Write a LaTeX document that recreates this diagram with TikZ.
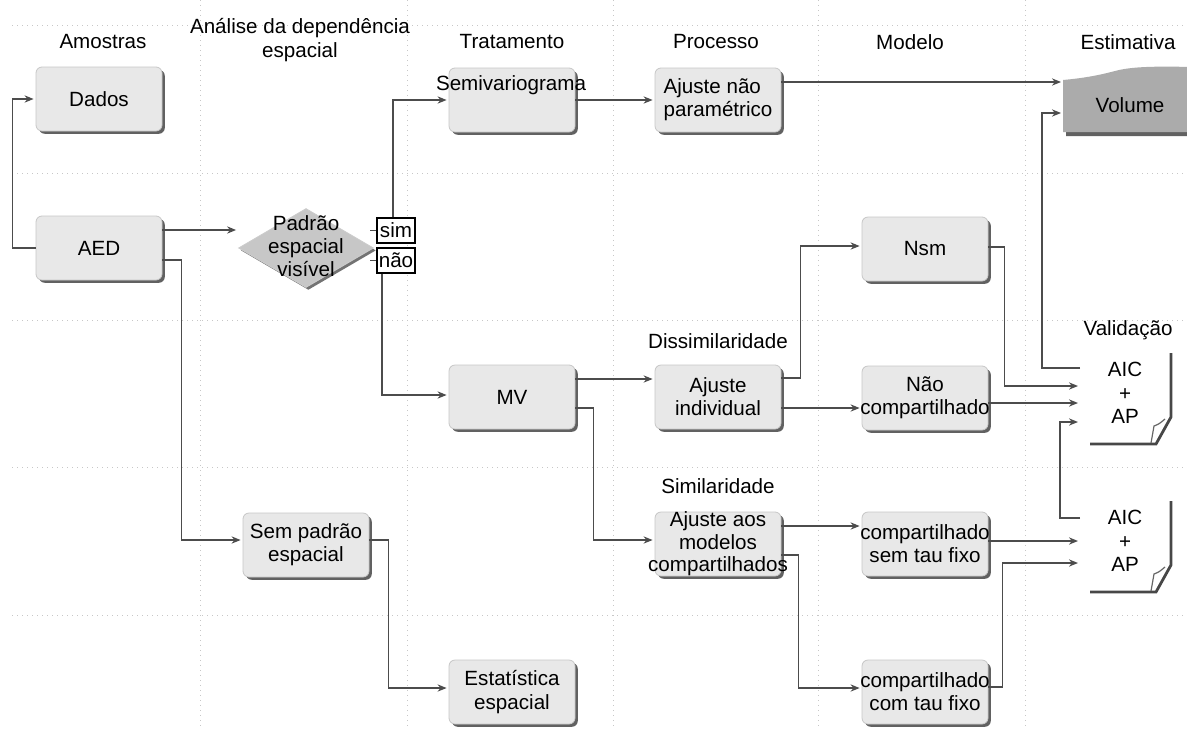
\documentclass[tikz,border=0pt]{standalone}
\usepackage{fontspec}
\setmainfont{Liberation Sans}
\usetikzlibrary{arrows.meta,shapes.geometric,shadows,calc}
\begin{document}
\begin{tikzpicture}[x=0.5pt,y=-0.5pt,
  font=\fontsize{10.3}{11.6}\selectfont,
  box/.style={rectangle, rounded corners=3pt, draw=black!22, fill=black!9,
    minimum width=63pt, minimum height=32pt, inner sep=0pt, align=center,
    drop shadow={shadow xshift=1.4pt, shadow yshift=-1.4pt, fill=black!62, opacity=1}},
  arr/.style={draw=black!70, line width=0.8pt, shorten >=1pt, -{Stealth[length=4.5pt,width=3.6pt]}},
  ln/.style={draw=black!70, line width=0.8pt},
  gridln/.style={black!22, line width=0.5pt, dotted},
  hdr/.style={align=center, inner sep=0pt},
  yn/.style={draw=black, fill=white, line width=0.6pt, minimum width=19pt, minimum height=12.5pt, inner sep=0pt},
  doc/.style={draw=black!72, line width=1.4pt},
]
\useasboundingbox (0,0) rectangle (1187,728);
% grid
\foreach \yy in {25,173,320,467,615} \draw[gridln] (12,\yy) -- (1187,\yy);
\foreach \xx in {200,407,613,818,1025} \draw[gridln] (\xx,0) -- (\xx,728);

% headers
\node[hdr] (hA) at (103,42) {Amostras};
\node[hdr] (hB) at (300,40) {Análise da dependência\\espacial};
\node[hdr] (hC) at (512,42) {Tratamento};
\node[hdr] (hD) at (716,42) {Processo};
\node[hdr] (hE) at (910,42) {Modelo};
\node[hdr] (hF) at (1128,42) {Estimativa};

% boxes
\node[box] (dados) at (99,99) {Dados};
\node[box] (aed) at (99,248) {AED};
\node[box] (semi) at (512,100) {};
\node[inner sep=0pt] (semit) at (511,85) {Semivariograma};
\node[box, align=left] (ajnp) at (718,100) {Ajuste não\\paramétrico};
\node[box] (mv) at (512,397) {MV};
\node[box] (ajind) at (718,397) {Ajuste\\individual};
\node[box, font=\fontsize{10.3}{11.2}\selectfont] (ajcomp) at (718,544) {Ajuste aos\\modelos\\\makebox[0pt]{compartilhados}};
\node[box] (nsm) at (925,249) {Nsm};
\node[box] (naoc) at (925,398) {Não\\\makebox[0pt]{compartilhado}};
\node[box] (semtau) at (925,544) {\makebox[0pt]{compartilhado}\\sem tau fixo};
\node[box] (comtau) at (925,692) {\makebox[0pt]{compartilhado}\\com tau fixo};
\node[box] (sempad) at (306,545) {Sem padrão\\espacial};
\node[box] (est) at (512,692) {Estatística\\espacial};

% diamond
\node[diamond, draw=black!20, fill=black!22, minimum width=67.5pt, minimum height=39.5pt, inner sep=0pt,
  drop shadow={shadow xshift=1.2pt, shadow yshift=-1.2pt, fill=black!55, opacity=1}] (pad) at (306,248) {};
\node[align=center, inner sep=0pt] (padt) at (306,246) {Padrão\\espacial\\visível};
\node[yn] (sim) at (396,230.5) {sim};
\node[yn] (nao) at (396,260.5) {não};

% volume
\fill[black!62] (1066,83) .. controls (1088,81) and (1103,78) .. (1118,74) .. controls (1133,70) and (1153,69) .. (1195,70) -- (1195,136) -- (1066,136) -- cycle;
\fill[black!33] (1063,80) .. controls (1085,78) and (1100,75) .. (1115,71) .. controls (1130,67) and (1150,66) .. (1192,67) -- (1192,132) -- (1063,132) -- cycle;
\coordinate (volw) at (1063,100);
\node (vol) at (1130,105) {Volume};

% labels
\node (dis) at (718,341) {Dissimilaridade};
\node (simil) at (718,486) {Similaridade};
\node (val) at (1128,330) {Validação};
\node[align=center, inner sep=0pt, font=\fontsize{10.3}{11.8}\selectfont] (aic1) at (1125,393) {AIC\\+\\AP};
\node[align=center, inner sep=0pt, font=\fontsize{10.3}{11.8}\selectfont] (aic2) at (1125,541) {AIC\\+\\AP};

% document shapes
\foreach \n in {aic1,aic2}{
  \begin{scope}[shift={(\n.center)}]
    \draw[doc] (46,-40) -- (46,24) -- (31,51) -- (-35,51);
    \draw[black!60, line width=0.6pt] (26,50) -- (29,33) .. controls (34,31) .. (40,26);
  \end{scope}
}

% connectors
\draw[arr] (aed.west) -- ++(-23,0) |- (dados.west);
\draw[arr] ([shift={(0,-18)}]aed.east) -- ([shift={(0,-18)}]aed.east -| pad.west);
\draw[arr] ([shift={(0,12)}]aed.east) -- ++(19,0) |- ([shift={(0,-5)}]sempad.west);
\draw[arr] ([shift={(0,-5)}]sempad.east) -- ++(19,0) |- ([shift={(0,-4)}]est.west);
\draw[ln] (sim.west) -- ++(-6,0);
\draw[ln] (nao.west) -- ++(-6,0);
\draw[arr] ([shift={(-3,0)}]sim.north) |- (semi.west);
\draw[arr] ([shift={(-14,0)}]nao.south) |- ([shift={(0,-2)}]mv.west);
\draw[arr] (semi.east) -- (ajnp.west);
\draw[arr] ([shift={(0,-18)}]ajnp.east) -- ([shift={(0,-18)}]ajnp.east -| volw);
\draw[arr] ([shift={(-45,-25)}]aic1.center) -- ++(-38,0) |- ([shift={(0,13)}]volw);
\draw[arr] ([shift={(0,-18)}]mv.east) -- ([shift={(0,-18)}]mv.east -| ajind.west);
\draw[arr] ([shift={(0,11)}]mv.east) -- ++(18,0) |- ([shift={(0,-4)}]ajcomp.west);
\draw[arr] ([shift={(0,-19)}]ajind.east) -- ++(19,0) |- ([shift={(0,-3)}]nsm.west);
\draw[arr] ([shift={(0,11)}]ajind.east) -- ([shift={(0,11)}]ajind.east -| naoc.west);
\draw[arr] ([shift={(0,-18)}]ajcomp.east) -- ([shift={(0,-18)}]ajcomp.east -| semtau.west);
\draw[arr] ([shift={(0,11)}]ajcomp.east) -- ++(17,0) |- ([shift={(0,-4)}]comtau.west);
\draw[arr] ([shift={(0,-2)}]nsm.east) -- ++(16,0) |- ([shift={(-45,-7)}]aic1.center);
\draw[arr] ([shift={(0,5)}]naoc.east) -- ([shift={(-45,10)}]aic1.center);
\draw[arr] ([shift={(-45,-23)}]aic2.center) -- ++(-20,0) |- ([shift={(-45,29)}]aic1.center);
\draw[arr] ([shift={(0,-3)}]semtau.east) -- ([shift={(-45,0)}]aic2.center);
\draw[arr] ([shift={(0,-5)}]comtau.east) -- ++(14,0) |- ([shift={(-45,22)}]aic2.center);
\end{tikzpicture}
\end{document}
